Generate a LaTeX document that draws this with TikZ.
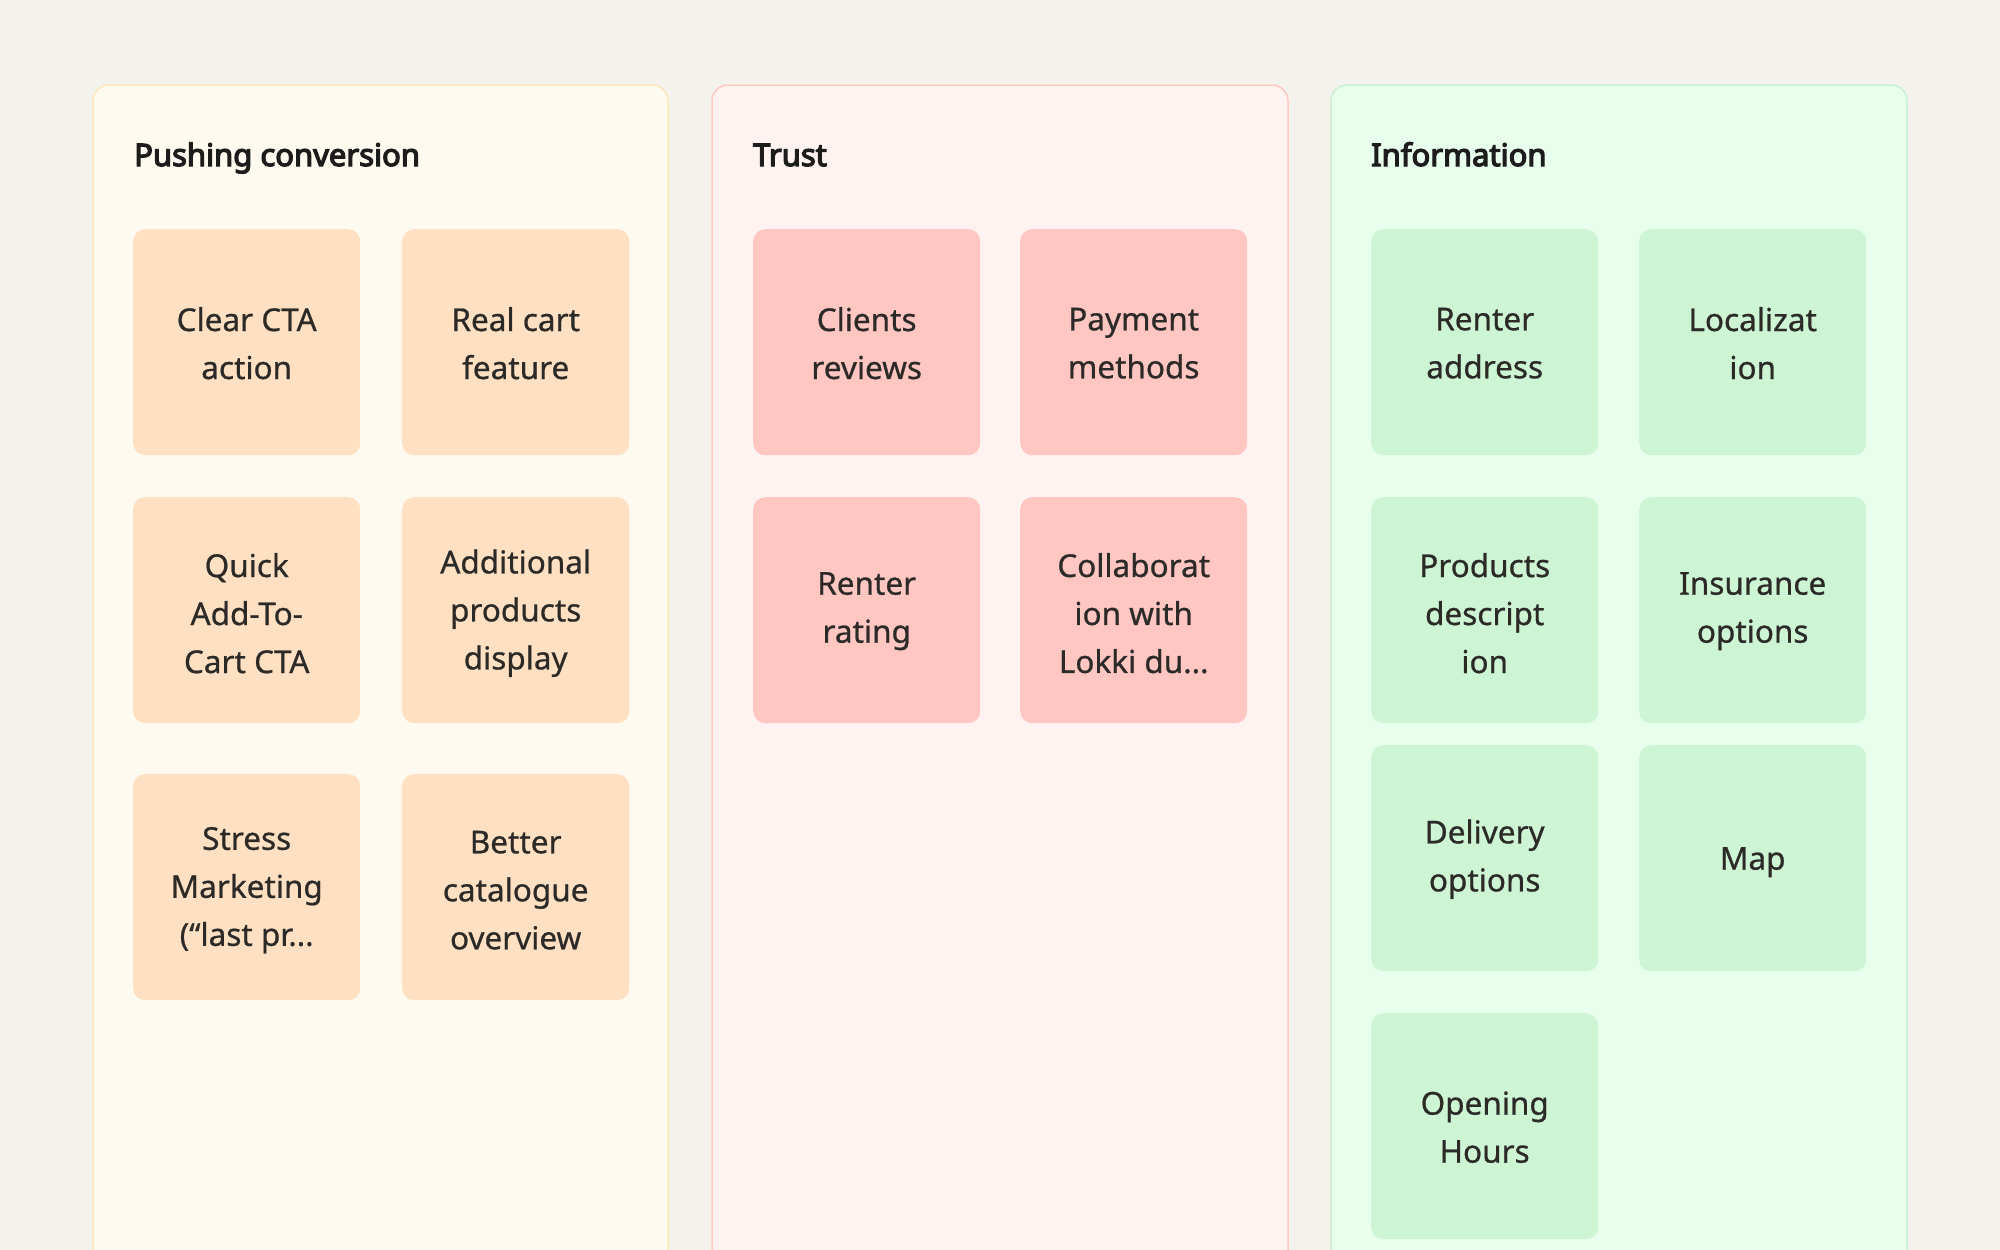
\documentclass[tikz,border=0pt]{standalone}
\usepackage{fontspec}
\setmainfont{Noto Sans}[AutoFakeBold=4]
\newfontfamily\cardfont{Noto Sans}[FakeBold=0.7]
\definecolor{bg}{HTML}{F3F2EC}
\definecolor{pAfill}{HTML}{FFFAEF}
\definecolor{pAline}{HTML}{FCE9B4}
\definecolor{cA}{HTML}{FFE0C2}
\definecolor{pBfill}{HTML}{FFF3F2}
\definecolor{pBline}{HTML}{FFC9C4}
\definecolor{cB}{HTML}{FFC6C2}
\definecolor{pCfill}{HTML}{E9FFEE}
\definecolor{pCline}{HTML}{C9F0D2}
\definecolor{cC}{HTML}{CDF5D4}
\definecolor{ink}{HTML}{2B2A27}
\definecolor{titleink}{HTML}{1C1C1C}
\tikzset{
  panel/.style={rounded corners=16pt, line width=1.5pt},
  card/.style={rounded corners=12pt, draw=none, minimum width=227pt, minimum height=226pt, inner sep=0pt, anchor=north west},
  cardtext/.style={align=center, text=ink, font=\cardfont\fontsize{31.5}{48}\selectfont, inner sep=0pt},
  ptitle/.style={anchor=base west, text=titleink, font=\bfseries\fontsize{31}{36}\selectfont, inner sep=0pt}
}
\begin{document}
\begin{tikzpicture}[x=1pt,y=-1pt]
\useasboundingbox (0,0) rectangle (2000,1250);
\clip (0,0) rectangle (2000,1250);
\fill[bg] (0,0) rectangle (2000,1250);
% panels
\draw[panel, fill=pAfill, draw=pAline] (93,85) rectangle (668,1320);
\draw[panel, fill=pBfill, draw=pBline] (712,85) rectangle (1288,1320);
\draw[panel, fill=pCfill, draw=pCline] (1331,85) rectangle (1907,1320);
% titles
\node[ptitle] (tA) at (134,166) {Pushing conversion};
\node[ptitle] (tB) at (753,166) {Trust};
\node[ptitle] (tC) at (1371,166) {Information};
% panel A cards
\node[card, fill=cA] (a1) at (133,229) {};
\node[card, fill=cA] (a2) at (402,229) {};
\node[card, fill=cA] (a3) at (133,497) {};
\node[card, fill=cA] (a4) at (402,497) {};
\node[card, fill=cA] (a5) at (133,774) {};
\node[card, fill=cA] (a6) at (402,774) {};
\node[cardtext] (a1t) at ([yshift=-1pt]a1.center) {Clear CTA\\action};
\node[cardtext] (a2t) at ([yshift=-1pt]a2.center) {Real cart\\feature};
\node[cardtext] (a3t) at ([yshift=-3pt]a3.center) {Quick\\Add-To-\\Cart CTA};
\node[cardtext] (a4t) at ([yshift=-3pt]a4.center) {Additional\\products\\display};
\node[cardtext] (a5t) at ([yshift=-3pt]a5.center) {Stress\\Marketing\\(“last pr...};
\node[cardtext] (a6t) at ([yshift=-3pt]a6.center) {Better\\catalogue\\overview};
% panel B cards
\node[card, fill=cB] (b1) at (753,229) {};
\node[card, fill=cB] (b2) at (1020,229) {};
\node[card, fill=cB] (b3) at (753,497) {};
\node[card, fill=cB] (b4) at (1020,497) {};
\node[cardtext] (b1t) at ([yshift=-1pt]b1.center) {Clients\\reviews};
\node[cardtext] (b2t) at ([yshift=-1pt]b2.center) {Payment\\methods};
\node[cardtext] (b3t) at ([yshift=-1pt]b3.center) {Renter\\rating};
\node[cardtext] (b4t) at ([yshift=-3pt]b4.center) {Collaborat\\ion with\\Lokki du...};
% panel C cards
\node[card, fill=cC] (c1) at (1371,229) {};
\node[card, fill=cC] (c2) at (1639,229) {};
\node[card, fill=cC] (c3) at (1371,497) {};
\node[card, fill=cC] (c4) at (1639,497) {};
\node[card, fill=cC] (c5) at (1371,745) {};
\node[card, fill=cC] (c6) at (1639,745) {};
\node[card, fill=cC] (c7) at (1371,1013) {};
\node[cardtext] (c1t) at ([yshift=-1pt]c1.center) {Renter\\address};
\node[cardtext] (c2t) at ([yshift=-1pt]c2.center) {Localizat\\ion};
\node[cardtext] (c3t) at ([yshift=-3pt]c3.center) {Products\\descript\\ion};
\node[cardtext] (c4t) at ([yshift=-1pt]c4.center) {Insurance\\options};
\node[cardtext] (c5t) at ([yshift=-1pt]c5.center) {Delivery\\options};
\node[cardtext] (c6t) at ([yshift=-4pt]c6.center) {Map};
\node[cardtext] (c7t) at ([yshift=-1pt]c7.center) {Opening\\Hours};
\end{tikzpicture}
\end{document}
